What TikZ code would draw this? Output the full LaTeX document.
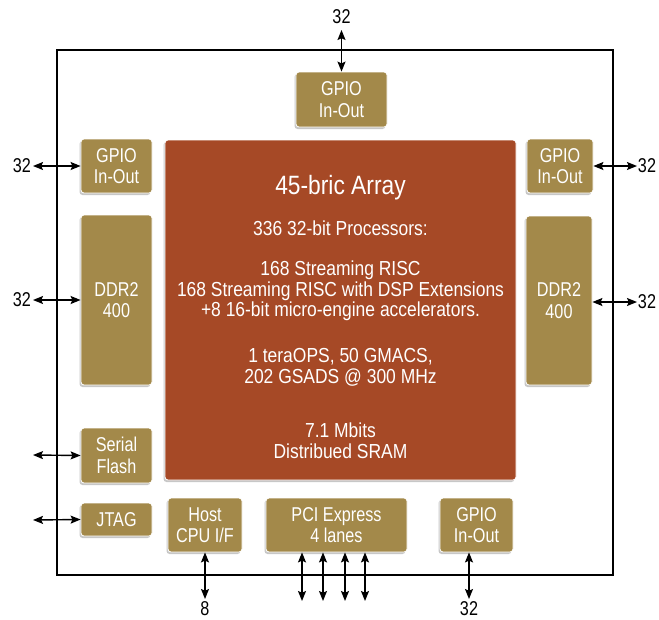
\documentclass[tikz,border=0pt]{standalone}
\usepackage{fontspec}
\setmainfont{Liberation Sans}[FakeStretch=0.81]
\newfontfamily\arrfont{Liberation Sans}[FakeStretch=0.86]
\usetikzlibrary{arrows.meta,shadows}
\definecolor{goldc}{RGB}{163,137,74}
\definecolor{rustc}{RGB}{166,73,38}
\tikzset{
  blk/.style={rounded corners=3pt, draw=white, line width=0.8pt, inner sep=0pt,
    align=center, text=white, font=\fontsize{20}{21.5}\selectfont,
    drop shadow={shadow xshift=-1.5pt, shadow yshift=-2pt, opacity=0.22, fill=black}},
  goldbox/.style={blk, fill=goldc},
  arraybox/.style={blk, fill=rustc},
  atext/.style={text=white, align=center, inner sep=0pt, font=\arrfont\fontsize{20.3}{20.6}\selectfont},
  io/.style={{Stealth[length=10pt,width=8pt,inset=1.8pt]}-{Stealth[length=10pt,width=8pt,inset=1.8pt]}, line width=1.4pt, black},
  lbl/.style={inner sep=0pt, font=\fontsize{20}{21}\selectfont, text=black}
}
\begin{document}
\begin{tikzpicture}[x=1pt,y=-1pt]
\useasboundingbox (0,0) rectangle (659,619);
% outer frame
\draw[line width=2.5pt] (57,50) rectangle (613,575);
% main array
\node[arraybox, minimum width=351pt, minimum height=340pt] (arr) at (340.5,310) {};
\node[atext, font=\arrfont\fontsize{26.5}{27}\selectfont] (t0) at (340.5,188) {45-bric Array};
\node[atext] (t1) at (340.5,228) {336 32-bit Processors:};
\node[atext] (t2) at (340.5,291) {168 Streaming RISC\\168 Streaming RISC with DSP Extensions\\+8 16-bit micro-engine accelerators.};
\node[atext] (t3) at (340.5,367.5) {1 teraOPS, 50 GMACS,\\202 GSADS @ 300 MHz};
\node[atext] (t4) at (340.5,440.5) {7.1 Mbits\\Distribued SRAM};
% peripheral blocks
\node[goldbox, minimum width=91pt, minimum height=55pt] (gt) at (341.5,99.5) {GPIO\\In-Out};
\node[goldbox, minimum width=71pt, minimum height=54pt] (gl) at (116.5,166) {GPIO\\In-Out};
\node[goldbox, minimum width=71pt, minimum height=170pt] (dl) at (116.5,300) {DDR2\\400};
\node[goldbox, minimum width=71pt, minimum height=55pt] (sf) at (116.5,455.5) {Serial\\Flash};
\node[goldbox, minimum width=71pt, minimum height=33pt] (jt) at (116.5,519.5) {JTAG};
\node[goldbox, minimum width=66pt, minimum height=54pt] (gr) at (560,166) {GPIO\\In-Out};
\node[goldbox, minimum width=66pt, minimum height=169pt] (dr) at (559,300.5) {DDR2\\400};
\node[goldbox, minimum width=74pt, minimum height=54pt] (hc) at (205,525) {Host\\CPU I/F};
\node[goldbox, minimum width=141pt, minimum height=54pt] (pci) at (336.5,525) {PCI Express\\4 lanes};
\node[goldbox, minimum width=73pt, minimum height=54pt] (gb) at (476.5,525) {GPIO\\In-Out};
% arrow ends
\coordinate (eT) at (341.5,30);
\coordinate (eL1) at (33,166);
\coordinate (eL2) at (33,300);
\coordinate (eL3) at (33,455);
\coordinate (eL4) at (33,520);
\coordinate (eR1) at (637,166);
\coordinate (eR2) at (637,302);
\coordinate (eH) at (205,599);
\coordinate (eP1) at (302,601);
\coordinate (eP2) at (323,601);
\coordinate (eP3) at (345,601);
\coordinate (eP4) at (365,601);
\coordinate (eG) at (469,599);
% connectors
\draw[io] (eT) -- (gt.north);
\draw[io] (eL1) -- (gl.west);
\draw[io] (eL2) -- (dl.west);
\draw[io] (eL3) -- (sf.west);
\draw[io] (eL4) -- (jt.west);
\draw[io] (gr.east) -- (eR1);
\draw[io] (eR2 -| dr.east) -- (eR2);
\draw[io] (hc.south) -- (eH);
\draw[io] (eP1 |- pci.south) -- (eP1);
\draw[io] (eP2 |- pci.south) -- (eP2);
\draw[io] (eP3 |- pci.south) -- (eP3);
\draw[io] (eP4 |- pci.south) -- (eP4);
\draw[io] (eG |- gb.south) -- (eG);
% labels
\node[lbl] (lT) at (341.5,17) {32};
\node[lbl] (lL1) at (22,166) {32};
\node[lbl] (lL2) at (22,300) {32};
\node[lbl] (lR1) at (647,166) {32};
\node[lbl] (lR2) at (647,302) {32};
\node[lbl] (lH) at (205,609) {8};
\node[lbl] (lG) at (469,609) {32};
\end{tikzpicture}
\end{document}
